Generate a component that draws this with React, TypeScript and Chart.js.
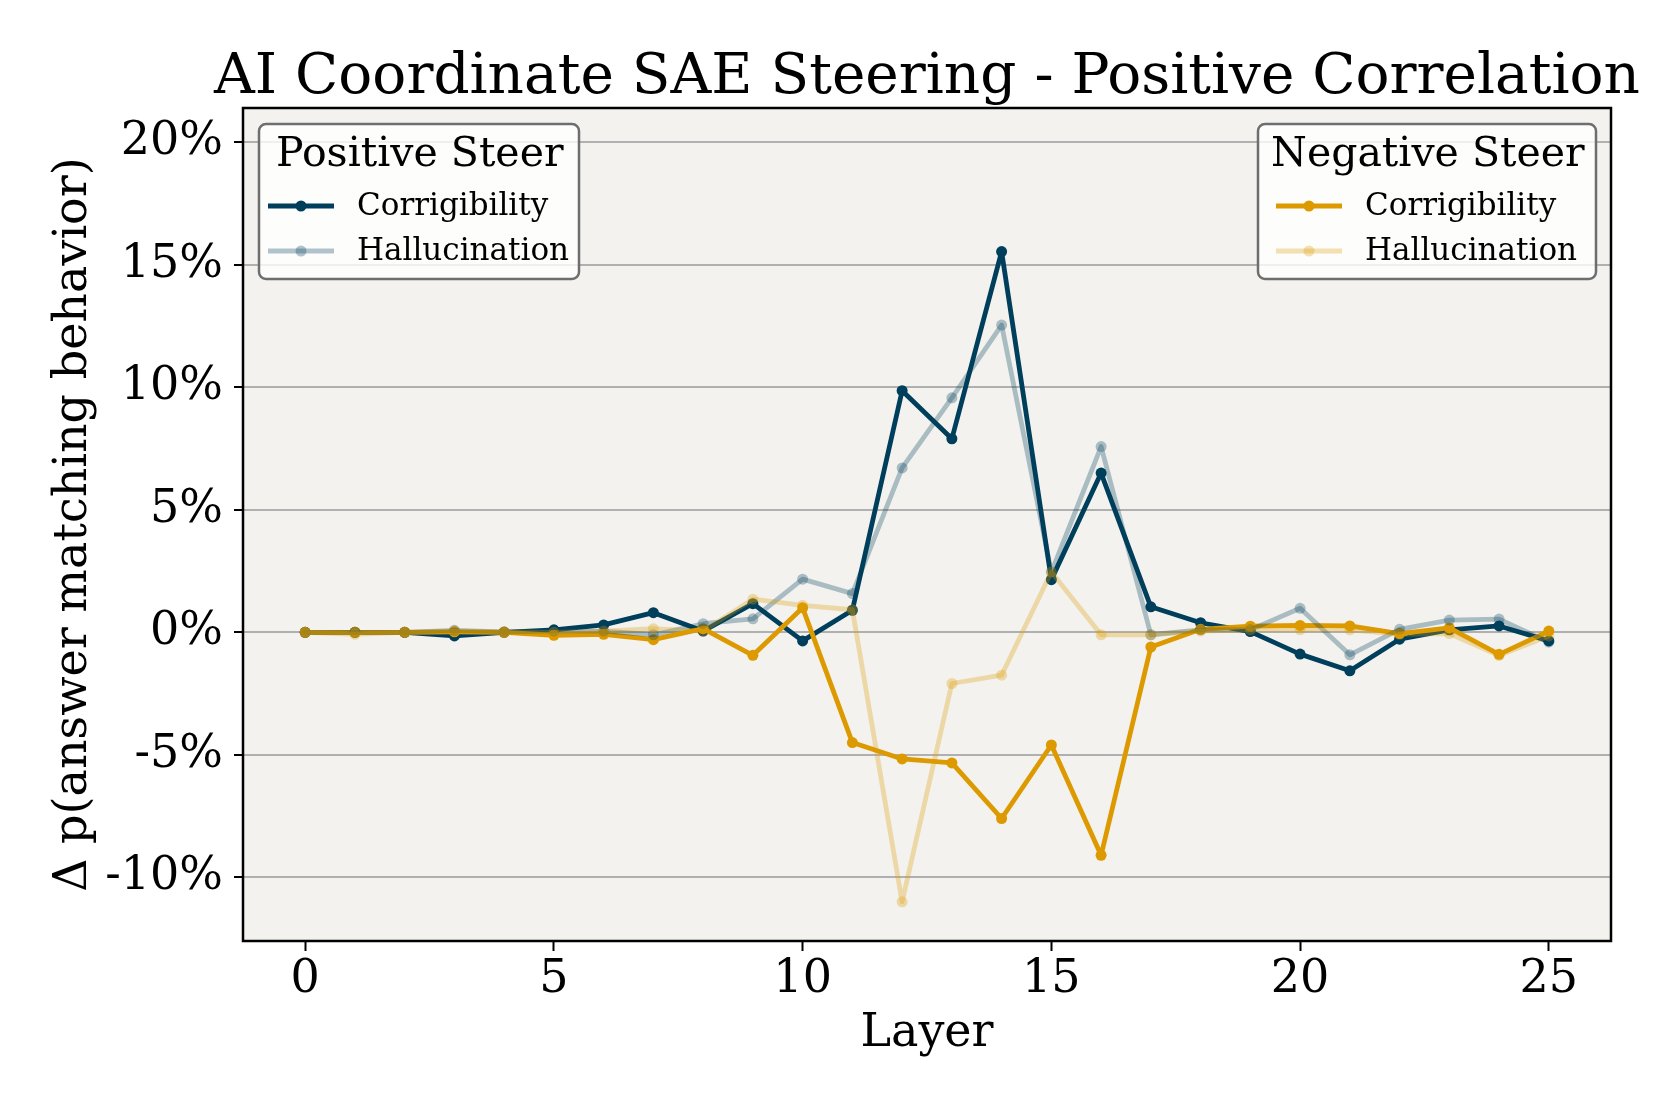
import React, { useEffect, useRef } from "react";
import { Chart, registerables } from "chart.js";

Chart.register(...registerables);

// ---------------- data ----------------
const layers = [0, 1, 2, 3, 4, 5, 6, 7, 8, 9, 10, 11, 12, 13, 14, 15, 16, 17, 18, 19, 20, 21, 22, 23, 24, 25];

// Positive steer (percent)
const posCorrigibility = [0, 0, 0, -0.15, 0, 0.1, 0.3, 0.8, 0.05, 1.17, -0.35, 0.9, 9.86, 7.9, 15.54, 2.15, 6.5, 1.04, 0.39, 0.03, -0.89, -1.57, -0.28, 0.1, 0.26, -0.35];
const posHallucination = [0, 0, 0, 0.08, 0.02, 0.05, 0.05, -0.1, 0.35, 0.55, 2.17, 1.58, 6.71, 9.57, 12.54, 2.46, 7.58, -0.1, 0.1, 0.1, 0.98, -0.92, 0.12, 0.5, 0.54, -0.4];

// Negative steer (percent)
const negCorrigibility = [0, 0, 0, 0.02, 0, -0.12, -0.08, -0.3, 0.15, -0.94, 1.0, -4.5, -5.17, -5.33, -7.6, -4.6, -9.1, -0.6, 0.12, 0.25, 0.28, 0.26, -0.05, 0.18, -0.9, 0.05];
const negHallucination = [0, -0.08, 0, 0.05, 0.02, 0, 0.05, 0.15, 0.05, 1.35, 1.1, 0.92, -11.0, -2.09, -1.75, 2.46, -0.1, -0.1, 0.05, 0.1, 0.1, 0.1, -0.08, -0.05, -0.95, -0.15];

const xTicks = [0, 5, 10, 15, 20, 25];
const yTicks = [-10, -5, 0, 5, 10, 15, 20];

const TITLE = "AI Coordinate SAE Steering - Positive Correlation";
const X_LABEL = "Layer";
const Y_LABEL = "Δ p(answer matching behavior)";
const LEGEND_POS_TITLE = "Positive Steer";
const LEGEND_NEG_TITLE = "Negative Steer";
const SERIES_NAMES = ["Corrigibility", "Hallucination"];

// ---------------- style ----------------
const FONT = "'DejaVu Serif', serif";
const DARK = "rgba(0, 63, 92, 1)";
const DARK_LIGHT = "rgba(0, 63, 92, 0.3)";
const ORANGE = "rgba(221, 154, 0, 1)";
const ORANGE_LIGHT = "rgba(221, 154, 0, 0.3)";
const PLOT_BG = "#f3f2ee";
const LINE_W = 4.8;
const POINT_R = 5.5;

const W = 1661;
const H = 1107;

function toPoints(vals: number[]) {
  return layers.map((l, i) => ({ x: l, y: vals[i] }));
}

function makeDataset(label: string, vals: number[], color: string, order: number) {
  return {
    label,
    data: toPoints(vals),
    borderColor: color,
    backgroundColor: color,
    pointBackgroundColor: color,
    pointBorderWidth: 0,
    pointRadius: POINT_R,
    borderWidth: LINE_W,
    borderJoinStyle: "round",
    borderCapStyle: "round",
    tension: 0,
    order,
  };
}

function drawLegend(
  ctx: CanvasRenderingContext2D,
  box: { x: number; y: number; w: number; h: number },
  title: string,
  titleX: number,
  handleX1: number,
  handleX2: number,
  textX: number,
  entries: { label: string; color: string }[]
) {
  ctx.save();
  ctx.beginPath();
  (ctx as any).roundRect(box.x, box.y, box.w, box.h, 7);
  ctx.fillStyle = "rgba(255,255,255,0.8)";
  ctx.fill();
  ctx.lineWidth = 2.5;
  ctx.strokeStyle = "#6e6e6e";
  ctx.stroke();

  ctx.fillStyle = "#000";
  ctx.textBaseline = "alphabetic";
  ctx.textAlign = "left";
  ctx.font = `41px ${FONT}`;
  ctx.fillText(title, titleX, box.y + 42);

  const rowYs = [box.y + 82, box.y + 127];
  entries.forEach((e, i) => {
    const y = rowYs[i];
    ctx.beginPath();
    ctx.moveTo(handleX1, y);
    ctx.lineTo(handleX2, y);
    ctx.strokeStyle = e.color;
    ctx.lineWidth = LINE_W;
    ctx.stroke();
    ctx.beginPath();
    ctx.arc((handleX1 + handleX2) / 2, y, POINT_R, 0, Math.PI * 2);
    ctx.fillStyle = e.color;
    ctx.fill();
    ctx.fillStyle = "#000";
    ctx.font = `31px ${FONT}`;
    ctx.textBaseline = "middle";
    ctx.fillText(e.label, textX, y + 1);
  });
  ctx.restore();
}

const decorPlugin = {
  id: "decor",
  beforeDraw(chart: any) {
    const { ctx, chartArea } = chart;
    ctx.save();
    ctx.fillStyle = "#ffffff";
    ctx.fillRect(0, 0, chart.width, chart.height);
    ctx.fillStyle = PLOT_BG;
    ctx.fillRect(chartArea.left, chartArea.top, chartArea.right - chartArea.left, chartArea.bottom - chartArea.top);
    ctx.restore();
  },
  afterDatasetsDraw(chart: any) {
    const { ctx, chartArea } = chart;
    ctx.save();
    ctx.strokeStyle = "#000";
    ctx.lineWidth = 2.5;
    ctx.strokeRect(chartArea.left, chartArea.top, chartArea.right - chartArea.left, chartArea.bottom - chartArea.top);
    ctx.restore();

    drawLegend(
      ctx,
      { x: 259, y: 124, w: 320, h: 155 },
      LEGEND_POS_TITLE,
      276,
      268,
      334,
      357,
      [
        { label: SERIES_NAMES[0], color: DARK },
        { label: SERIES_NAMES[1], color: DARK_LIGHT },
      ]
    );
    drawLegend(
      ctx,
      { x: 1258, y: 124, w: 338, h: 155 },
      LEGEND_NEG_TITLE,
      1271,
      1276,
      1342,
      1365,
      [
        { label: SERIES_NAMES[0], color: ORANGE },
        { label: SERIES_NAMES[1], color: ORANGE_LIGHT },
      ]
    );
  },
  afterDraw(chart: any) {
    const { ctx, chartArea } = chart;
    ctx.save();
    ctx.fillStyle = "#000";
    ctx.font = `56.5px ${FONT}`;
    ctx.textAlign = "center";
    ctx.textBaseline = "alphabetic";
    ctx.fillText(TITLE, (chartArea.left + chartArea.right) / 2, 93);
    ctx.restore();
  },
};

export default function App() {
  const canvasRef = useRef<HTMLCanvasElement | null>(null);

  useEffect(() => {
    document.body.style.margin = "0";
    const canvas = canvasRef.current;
    if (!canvas) return;

    const chart = new Chart(canvas, {
      type: "line",
      data: {
        datasets: [
          makeDataset(`${LEGEND_POS_TITLE} ${SERIES_NAMES[0]}`, posCorrigibility, DARK, 3),
          makeDataset(`${LEGEND_NEG_TITLE} ${SERIES_NAMES[0]}`, negCorrigibility, ORANGE, 2),
          makeDataset(`${LEGEND_POS_TITLE} ${SERIES_NAMES[1]}`, posHallucination, DARK_LIGHT, 1),
          makeDataset(`${LEGEND_NEG_TITLE} ${SERIES_NAMES[1]}`, negHallucination, ORANGE_LIGHT, 0),
        ] as any,
      },
      plugins: [decorPlugin],
      options: {
        animation: false,
        responsive: false,
        devicePixelRatio: 1,
        layout: { padding: { top: 108, right: 50, bottom: 0, left: 0 } },
        plugins: {
          legend: { display: false },
          title: { display: false },
          tooltip: { enabled: false },
        },
        scales: {
          x: {
            type: "linear",
            min: -1.25,
            max: 26.25,
            afterBuildTicks: (s: any) => {
              s.ticks = xTicks.map((v) => ({ value: v }));
            },
            afterFit: (s: any) => {
              s.height = 166;
            },
            ticks: {
              color: "#000",
              font: { family: FONT, size: 46 },
              padding: 1,
              maxRotation: 0,
              autoSkip: false,
              callback: (v: any) => String(v),
            },
            grid: {
              display: true,
              drawOnChartArea: false,
              drawTicks: true,
              tickLength: 10,
              tickColor: "#000",
              tickWidth: 2,
            },
            border: { display: false },
            title: {
              display: true,
              text: X_LABEL,
              color: "#000",
              font: { family: FONT, size: 46 },
              padding: { top: 0, bottom: 45 },
            },
          },
          y: {
            type: "linear",
            min: -12.6,
            max: 21.4,
            afterBuildTicks: (s: any) => {
              s.ticks = yTicks.map((v) => ({ value: v }));
            },
            afterFit: (s: any) => {
              s.width = 243;
            },
            ticks: {
              color: "#000",
              font: { family: FONT, size: 46 },
              padding: 11,
              autoSkip: false,
              callback: (v: any) => `${v}%`,
            },
            grid: {
              display: true,
              drawOnChartArea: true,
              color: "#b0b0b0",
              lineWidth: 2,
              drawTicks: true,
              tickLength: 9,
              tickColor: "#000",
              tickWidth: 2,
            },
            border: { display: false },
            title: {
              display: true,
              text: Y_LABEL,
              color: "#000",
              font: { family: FONT, size: 46 },
              padding: { top: 46, bottom: 0 },
            },
          },
        },
      } as any,
    });

    return () => {
      chart.destroy();
    };
  }, []);

  return (
    <div style={{ width: W, height: H }}>
      <canvas ref={canvasRef} width={W} height={H} style={{ display: "block", width: W, height: H }} />
    </div>
  );
}
